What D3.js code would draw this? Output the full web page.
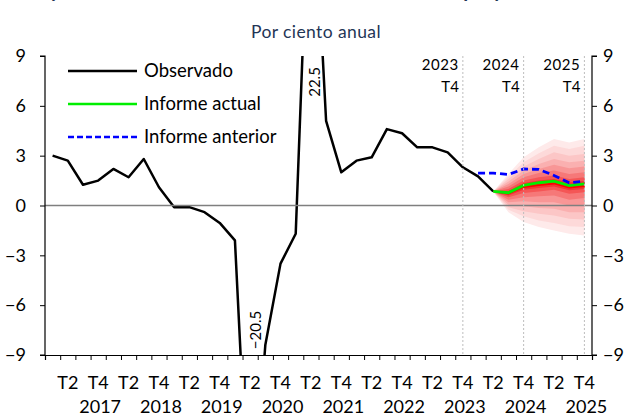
<!DOCTYPE html>
<html>
<head>
<meta charset="utf-8">
<script src="https://cdn.jsdelivr.net/npm/d3@7"></script>
<style>
  body { margin: 0; background: #fff; }
  svg text { font-family: Lato, "Open Sans", sans-serif; }
</style>
</head>
<body>
<svg id="chart" width="631" height="417"></svg>
<script>
// Quarters 2017T1 .. 2025T4
const years = ["2017", "2018", "2019", "2020", "2021", "2022", "2023", "2024", "2025"];
const quarterLabels = ["T1", "T2", "T3", "T4"];

// Observed series, 2017T1 .. 2024T2
const observado = [3.0, 2.7, 1.25, 1.5, 2.2, 1.7, 2.8, 1.1, -0.1, -0.1, -0.4, -1.05,
  -2.1, -20.5, -8.4, -3.5, -1.7, 22.5, 5.1, 2.0, 2.7, 2.9, 4.6, 4.35, 3.5, 3.5, 3.2, 2.3, 1.75, 0.85];

// Current report, 2024T2 .. 2025T4
const actualStart = 29;
const informeActual = [0.85, 0.77, 1.21, 1.37, 1.47, 1.2, 1.3];
const centralRojo = [0.85, 0.72, 1.12, 1.24, 1.33, 1.08, 1.18];

// Previous report, 2024T1 .. 2025T4
const anteriorStart = 28;
const informeAnterior = [1.95, 1.95, 1.87, 2.2, 2.17, 1.81, 1.37, 1.47];

// Fan chart bands (outer to inner), 2024T2 .. 2025T4
const fanUpper = [
  [0.85, 1.9, 2.9, 3.5, 4.0, 3.8, 4.0],
  [0.85, 1.75, 2.6, 3.15, 3.6, 3.4, 3.6],
  [0.85, 1.6, 2.35, 2.8, 3.2, 3.0, 3.1],
  [0.85, 1.45, 2.1, 2.5, 2.8, 2.6, 2.7],
  [0.85, 1.3, 1.9, 2.2, 2.45, 2.25, 2.35],
  [0.85, 1.15, 1.7, 1.95, 2.1, 1.9, 2.0],
  [0.85, 1.0, 1.5, 1.7, 1.8, 1.6, 1.7],
  [0.85, 0.88, 1.35, 1.5, 1.6, 1.38, 1.48]
];
const fanLower = [
  [0.85, -0.4, -1.0, -1.3, -1.5, -1.7, -1.8],
  [0.85, -0.25, -0.65, -0.9, -1.05, -1.25, -1.3],
  [0.85, -0.1, -0.35, -0.5, -0.6, -0.8, -0.85],
  [0.85, 0.05, -0.05, -0.15, -0.2, -0.4, -0.4],
  [0.85, 0.2, 0.25, 0.2, 0.2, 0.0, 0.05],
  [0.85, 0.35, 0.5, 0.55, 0.6, 0.35, 0.45],
  [0.85, 0.5, 0.75, 0.85, 0.95, 0.7, 0.8],
  [0.85, 0.6, 0.95, 1.05, 1.15, 0.92, 1.0]
];
const fanColors = ["#feeaea", "#fdd9d9", "#fcc6c6", "#fab0b0", "#f89696", "#f67878", "#f45656", "#f23434"];

const yTicks = [-9, -6, -3, 0, 3, 6, 9];
const markerYears = ["2023", "2024", "2025"];

const svg = d3.select("#chart");
const plotLeft = 45, plotRight = 592, plotTop = 56, plotBottom = 355;
const nQ = years.length * 4;

const x = d3.scaleLinear().domain([0, nQ]).range([plotLeft, plotRight]);
const y = d3.scaleLinear().domain([-9, 9]).range([plotBottom, plotTop]);
const cx = i => x(i + 0.5);

svg.append("defs").append("clipPath").attr("id", "plotClip")
  .append("rect").attr("x", plotLeft).attr("y", plotTop)
  .attr("width", plotRight - plotLeft).attr("height", plotBottom - plotTop);

const navy = "#1f3556";

// Title (cut off at the top in the original)
svg.append("text").attr("x", 318).attr("y", -3).attr("text-anchor", "middle")
  .attr("font-size", 20).attr("font-weight", "bold").attr("fill", navy)
  .text("Proyección de crecimiento del PIB: fan chart de la proyección, 2025");

svg.append("text").attr("x", 316).attr("y", 38).attr("text-anchor", "middle")
  .attr("font-size", 17.5).attr("fill", navy).attr("letter-spacing", 0.4)
  .text("Por ciento anual");

const plot = svg.append("g").attr("clip-path", "url(#plotClip)");

// Fan
const area = d3.area()
  .x((d, i) => cx(actualStart + i))
  .y0(d => y(d[0]))
  .y1(d => y(d[1]));
fanUpper.forEach((up, k) => {
  const pts = up.map((u, i) => [fanLower[k][i], u]);
  plot.append("path").attr("d", area(pts)).attr("fill", fanColors[k]);
});

const line = start => d3.line().x((d, i) => cx(start + i)).y(d => y(d));

plot.append("path").attr("d", line(actualStart)(centralRojo))
  .attr("fill", "none").attr("stroke", "#ff0000").attr("stroke-width", 2);

// Zero line
svg.append("line").attr("x1", plotLeft).attr("x2", plotRight).attr("y1", y(0)).attr("y2", y(0))
  .attr("stroke", "#7f7f7f").attr("stroke-width", 1.3);

// Year markers
markerYears.forEach(yr => {
  const i = years.indexOf(yr) * 4 + 3;
  svg.append("line").attr("x1", cx(i)).attr("x2", cx(i)).attr("y1", plotTop).attr("y2", plotBottom)
    .attr("stroke", "#bdbdbd").attr("stroke-width", 1).attr("stroke-dasharray", "2,2");
  svg.append("text").attr("x", cx(i) - 4).attr("y", 70).attr("text-anchor", "end")
    .attr("font-size", 15).attr("fill", "#000").attr("letter-spacing", 0.6).text(yr);
  svg.append("text").attr("x", cx(i) - 4).attr("y", 92).attr("text-anchor", "end")
    .attr("font-size", 15).attr("fill", "#000").text("T4");
});

// Series
plot.append("path").attr("d", line(0)(observado))
  .attr("fill", "none").attr("stroke", "#000").attr("stroke-width", 2.5).attr("stroke-linejoin", "round");
plot.append("path").attr("d", line(actualStart)(informeActual))
  .attr("fill", "none").attr("stroke", "#00ee00").attr("stroke-width", 2.8);
plot.append("path").attr("d", line(anteriorStart)(informeAnterior))
  .attr("fill", "none").attr("stroke", "#0000ff").attr("stroke-width", 2.8).attr("stroke-dasharray", "7,4");

// Out-of-range value labels
const spikeLabels = [{ i: 13, v: observado[13], dx: 6, yy: 330 }, { i: 17, v: observado[17], dx: 4, yy: 82 }];
spikeLabels.forEach(s => {
  svg.append("text").attr("transform", `translate(${cx(s.i) + s.dx},${s.yy}) rotate(-90)`)
    .attr("text-anchor", "middle").attr("dy", "0.35em").attr("font-size", 15).text(d3.format(".1f")(s.v));
});

// Axes
const yLeft = d3.axisLeft(y).tickValues(yTicks).tickSize(5).tickPadding(14).tickFormat(d3.format("d"));
const yRight = d3.axisRight(y).tickValues(yTicks).tickSize(5).tickPadding(6).tickFormat(d3.format("d"));
const gl = svg.append("g").attr("transform", `translate(${plotLeft},0)`).call(yLeft);
const gr = svg.append("g").attr("transform", `translate(${plotRight},0)`).call(yRight);
const xAxis = d3.axisBottom(x).tickValues(d3.range(0, nQ + 1)).tickSize(5).tickFormat("");
const gx = svg.append("g").attr("transform", `translate(0,${plotBottom})`).call(xAxis);
[gl, gr, gx].forEach(g => {
  g.selectAll("path.domain").attr("stroke", "#000").attr("stroke-width", 1.2);
  g.selectAll(".tick line").attr("stroke", "#000");
  g.selectAll("text").attr("font-family", "Lato, sans-serif").attr("font-size", 18).attr("fill", "#000");
});
gl.select("path.domain").attr("d", `M-5,${plotTop}H0V${plotBottom}H-5`);
gr.select("path.domain").attr("d", `M5,${plotTop}H0V${plotBottom}H5`);

// Quarter labels
d3.range(nQ).forEach(i => {
  const q = i % 4;
  if (q === 1 || q === 3) {
    svg.append("text").attr("x", cx(i)).attr("y", 389).attr("text-anchor", "middle")
      .attr("font-size", 18).text(quarterLabels[q]);
  }
});
years.forEach((yr, k) => {
  svg.append("text").attr("x", cx(k * 4 + 3) + 2).attr("y", 413).attr("text-anchor", "middle")
    .attr("font-size", 18).text(yr);
});

// Legend
const legend = [
  { label: "Observado", color: "#000", dash: null },
  { label: "Informe actual", color: "#00ee00", dash: null },
  { label: "Informe anterior", color: "#0000ff", dash: "6,3" }
];
legend.forEach((l, k) => {
  const ly = 71 + k * 33;
  svg.append("line").attr("x1", 68).attr("x2", 137).attr("y1", ly).attr("y2", ly)
    .attr("stroke", l.color).attr("stroke-width", 2.5).attr("stroke-dasharray", l.dash);
  svg.append("text").attr("x", 144).attr("y", ly).attr("dy", "0.35em")
    .attr("font-size", 18.5).text(l.label);
});
</script>
</body>
</html>
